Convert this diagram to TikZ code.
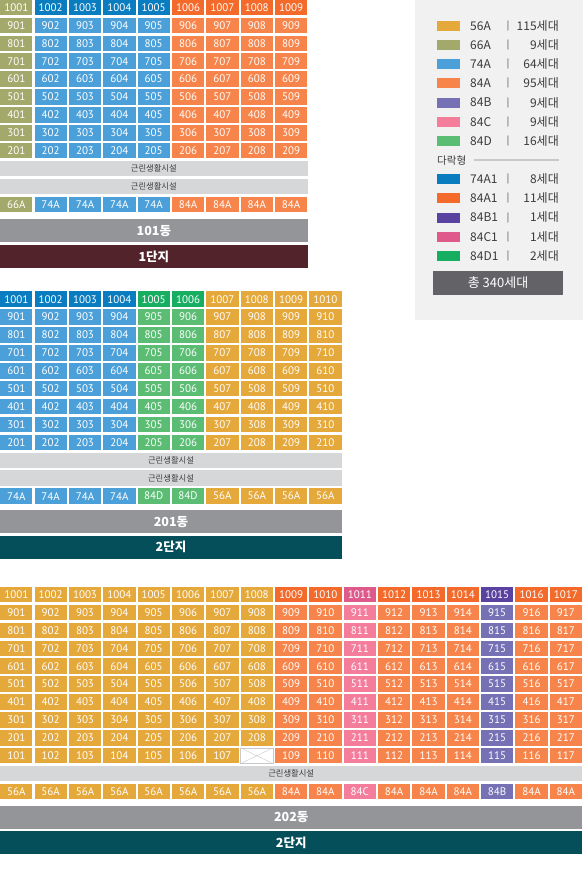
\documentclass[tikz,border=0pt]{standalone}
\usepackage{fontspec}
\setmainfont{PT Sans}
\newfontfamily\kr{Noto Sans CJK KR}
\usepackage{tikz}
\usetikzlibrary{positioning}

\definecolor{c56A}{HTML}{E5A83B}
\definecolor{c66A}{HTML}{A3A86B}
\definecolor{c74A}{HTML}{4CA0DA}
\definecolor{c74A1}{HTML}{0A7DC0}
\definecolor{c84A}{HTML}{F7854B}
\definecolor{c84A1}{HTML}{F36A2B}
\definecolor{c84B}{HTML}{7670B4}
\definecolor{c84B1}{HTML}{5A43A0}
\definecolor{c84C}{HTML}{F47D9C}
\definecolor{c84C1}{HTML}{DF5A8A}
\definecolor{c84D}{HTML}{5BBD73}
\definecolor{c84D1}{HTML}{17AE62}
\definecolor{facgray}{HTML}{D6D7D9}
\definecolor{donggray}{HTML}{939598}
\definecolor{zone1}{HTML}{52232B}
\definecolor{zone2}{HTML}{054F5B}
\definecolor{legendbg}{HTML}{F1F1F1}
\definecolor{totalgray}{HTML}{636267}
\definecolor{darktext}{HTML}{3A3A3A}
\definecolor{xgray}{HTML}{C8C9CB}

\tikzstyle{cell} = [rectangle, inner sep=0pt, minimum width=32.3pt,
    minimum height=15.5pt, text=white, font=\fontsize{11}{11}\selectfont]
\tikzstyle{facility} = [rectangle, fill=facgray, inner sep=0pt, anchor=west,
    minimum height=15.5pt, text=darktext, font=\kr\fontsize{8.3}{9}\selectfont]
\tikzstyle{dongbar} = [rectangle, fill=donggray, inner sep=0pt, anchor=north west,
    minimum height=23pt, text=white, font=\kr\bfseries\fontsize{12.5}{13}\selectfont]
\tikzstyle{swatch} = [rectangle, inner sep=0pt, minimum width=23pt, minimum height=10pt]
\tikzstyle{legendtext} = [inner sep=0pt, text=darktext, font=\kr\fontsize{12}{12}\selectfont]

\begin{document}
\begin{tikzpicture}[x=1pt,y=-1pt]
\useasboundingbox (0,0) rectangle (583,894);

% 101dong
\foreach \t/\h [count=\c] in {66A/66A,74A/74A1,74A/74A1,74A/74A1,74A/74A1,84A/84A1,84A/84A1,84A/84A1,84A/84A1}{
    \pgfmathsetmacro{\xx}{16.3+34.35*(\c-1)}
    \node[cell, fill=c\h] (d101-10-\c) at (\xx,7.5) {\the\numexpr1000+\c\relax};
    \foreach \f in {9,...,2}
        \node[cell, fill=c\t] (d101-\f-\c) at (\xx,{7.5+17.9*(10-\f)}) {\the\numexpr\f*100+\c\relax};
    \node[cell, fill=c\t] (d101-t-\c) at (\xx,{7.5+17.9*11}) {\t};
}
\node[facility, minimum width=307.3pt] (d101-fac1) at (0,{7.5+17.9*9}) {근린생활시설};
\node[facility, minimum width=307.3pt] (d101-fac2) at (0,{7.5+17.9*10}) {근린생활시설};
\node[dongbar, minimum width=307.3pt] (d101-name) at (0,219) {101동};
\node[dongbar, fill=zone1, minimum width=307.3pt] (d101-zone) at (0,245) {1단지};

% 201dong
\foreach \t/\h [count=\c] in {74A/74A1,74A/74A1,74A/74A1,74A/74A1,84D/84D1,84D/84D1,56A/56A,56A/56A,56A/56A,56A/56A}{
    \pgfmathsetmacro{\xx}{16.3+34.35*(\c-1)}
    \node[cell, fill=c\h] (d201-10-\c) at (\xx,299.2) {\the\numexpr1000+\c\relax};
    \foreach \f in {9,...,2}
        \node[cell, fill=c\t] (d201-\f-\c) at (\xx,{299.2+17.9*(10-\f)}) {\the\numexpr\f*100+\c\relax};
    \node[cell, fill=c\t] (d201-t-\c) at (\xx,{299.2+17.9*11}) {\t};
}
\node[facility, minimum width=341.6pt] (d201-fac1) at (0,{299.2+17.9*9}) {근린생활시설};
\node[facility, minimum width=341.6pt] (d201-fac2) at (0,{299.2+17.9*10}) {근린생활시설};
\node[dongbar, minimum width=341.6pt] (d201-name) at (0,510) {201동};
\node[dongbar, fill=zone2, minimum width=341.6pt] (d201-zone) at (0,535.5) {2단지};

% 202dong
\foreach \t/\h [count=\c] in {56A/56A,56A/56A,56A/56A,56A/56A,56A/56A,56A/56A,56A/56A,56A/56A,84A/84A1,84A/84A1,84C/84C1,84A/84A1,84A/84A1,84A/84A1,84B/84B1,84A/84A1,84A/84A1}{
    \pgfmathsetmacro{\xx}{16.3+34.35*(\c-1)}
    \node[cell, fill=c\h] (d202-10-\c) at (\xx,594.6) {\the\numexpr1000+\c\relax};
    \foreach \f in {9,...,1}{
        \ifnum\numexpr\f*100+\c\relax=108
            \node[cell, fill=white, draw=xgray] (d202-\f-\c) at (\xx,{594.6+17.9*(10-\f)}) {};
            \draw[xgray] (d202-\f-\c.north west) -- (d202-\f-\c.south east)
                (d202-\f-\c.south west) -- (d202-\f-\c.north east);
        \else
            \node[cell, fill=c\t] (d202-\f-\c) at (\xx,{594.6+17.9*(10-\f)}) {\the\numexpr\f*100+\c\relax};
        \fi
    }
    \node[cell, fill=c\t] (d202-t-\c) at (\xx,{594.6+17.9*11}) {\t};
}
\node[facility, minimum width=582pt] (d202-fac) at (0,{594.6+17.9*10}) {근린생활시설};
\node[dongbar, minimum width=582pt] (d202-name) at (0,805.7) {202동};
\node[dongbar, fill=zone2, minimum width=582pt] (d202-zone) at (0,830.8) {2단지};

% legend
\fill[legendbg] (415,0) rectangle (583,320);
\foreach \t/\n [count=\i from 0] in {56A/115,66A/9,74A/64,84A/95,84B/9,84C/9,84D/16,-/-,74A1/8,84A1/11,84B1/1,84C1/1,84D1/2}{
    \ifnum\i=7\else
        \node[swatch, fill=c\t] (sw-\t) at (448.5,{26+19.15*\i}) {};
        \node[legendtext, anchor=west] (lb-\t) at (470,{26+19.15*\i}) {\t};
        \node[legendtext, font=\kr\fontsize{9}{9}\selectfont] (sep-\t) at (508,{26+19.15*\i}) {|};
        \node[legendtext, anchor=east] (nr-\t) at (559,{26+19.15*\i}) {{\n}세대};
    \fi
}
\node[legendtext, anchor=west, font=\kr\fontsize{10.5}{11}\selectfont] (attic) at (437,{26+19.15*7}) {다락형};
\draw[xgray, line width=1.5pt] (attic.east) ++(8,0) coordinate (attic-line) -- (559,{26+19.15*7});
\node[rectangle, fill=totalgray, minimum width=130pt, minimum height=24pt, inner sep=0pt,
    text=white, font=\kr\fontsize{13}{13}\selectfont] (total) at (498,283) {총 340세대};
\end{tikzpicture}
\end{document}
